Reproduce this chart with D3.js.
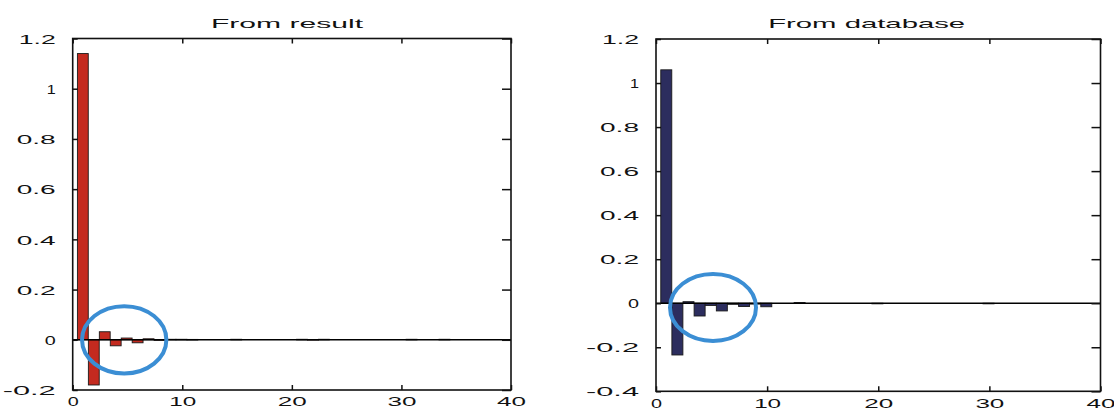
<!DOCTYPE html>
<html>
<head>
<meta charset="utf-8">
<script src="https://cdn.jsdelivr.net/npm/d3@7"></script>
<style>
  html, body { margin: 0; padding: 0; background: #fff; }
  svg { display: block; }
  text { font-family: "Liberation Sans", "DejaVu Sans", sans-serif; fill: #111; }
</style>
</head>
<body>
<svg id="chart" width="1114" height="410"></svg>
<script>
// Lags 1..40
const lags = d3.range(1, 41);

// Impulse response bars, "From result"
const resultValues = [
  1.14, -0.18, 0.032, -0.024, 0.007, -0.012, 0.004, -0.002, 0.002, 0.002,
  0.0015, 0, 0, 0, 0.002, 0, 0, 0, 0, 0,
  0.002, 0.001, 0.002, 0, 0, 0, 0, 0, 0, 0,
  0.002, 0, 0, 0.002, 0, 0, 0, 0, 0, 0
];

// Impulse response bars, "From database"
const databaseValues = [
  1.06, -0.235, 0.007, -0.058, -0.01, -0.035, -0.005, -0.015, -0.004, -0.016,
  0, 0, 0.003, 0, 0, 0, 0, 0, 0, -0.002,
  0, 0, 0, 0, 0, 0, 0, 0, 0, -0.002,
  0, 0, 0, 0, 0, 0, 0, 0, 0, 0
];

const xTicks = [0, 10, 20, 30, 40];
const resultYTicks = [-0.2, 0, 0.2, 0.4, 0.6, 0.8, 1, 1.2];
const databaseYTicks = [-0.4, -0.2, 0, 0.2, 0.4, 0.6, 0.8, 1, 1.2];

// Highlight ellipses around the early oscillation (data units)
const resultHighlight = { cx: 4.7, cy: 0.0, rx: 3.85, ry: 0.134 };
const databaseHighlight = { cx: 5.13, cy: -0.019, rx: 3.87, ry: 0.152 };

const svg = d3.select("#chart");

// Width of a label in the wide MATLAB-style face
function labelWidth(s) {
  let w = 0;
  for (const c of s) w += c === "." ? 3 : c === "-" ? 7 : (c === "1" ? 9 : 11);
  return w + 7 * (s.length - 1);
}
function fmt(d) {
  if (Math.abs(d) < 1e-9) return "0";
  return String(+d.toFixed(1));
}

function panel(opts) {
  const { left, right, top, bottom, yDomain, yTicks, values, fill, title, titleX, titleW, highlight } = opts;
  const x = d3.scaleLinear().domain([0, 40]).range([left, right]);
  const y = d3.scaleLinear().domain(yDomain).range([bottom, top]);
  const g = svg.append("g");

  // bars
  g.selectAll("rect.bar")
    .data(lags.map((k, i) => ({ k, v: values[i] })).filter(d => d.v !== 0))
    .join("rect")
    .attr("class", "bar")
    .attr("x", d => x(d.k - 0.57))
    .attr("width", d => x(d.k + 0.42) - x(d.k - 0.57))
    .attr("y", d => y(Math.max(0, d.v)))
    .attr("height", d => Math.max(0.6, Math.abs(y(d.v) - y(0))))
    .attr("fill", fill)
    .attr("stroke", "#1a1a1a")
    .attr("stroke-width", 0.9);

  // zero baseline
  g.append("line")
    .attr("x1", x(0)).attr("x2", x(40))
    .attr("y1", y(0)).attr("y2", y(0))
    .attr("stroke", "#000").attr("stroke-width", 1.4);

  // box
  g.append("rect")
    .attr("x", left).attr("y", top)
    .attr("width", right - left).attr("height", bottom - top)
    .attr("fill", "none").attr("stroke", "#111").attr("stroke-width", 1.6);

  // bottom axis
  const xb = g.append("g").attr("transform", `translate(0,${bottom})`)
    .call(d3.axisBottom(x).tickValues(xTicks).tickSize(-5).tickPadding(7).tickFormat(d3.format("d")));
  // top ticks
  const xt = g.append("g").attr("transform", `translate(0,${top})`)
    .call(d3.axisTop(x).tickValues(xTicks).tickSize(-5).tickFormat(""));
  // left axis
  const yl = g.append("g").attr("transform", `translate(${left},0)`)
    .call(d3.axisLeft(y).tickValues(yTicks).tickSize(-5).tickPadding(17).tickFormat(fmt));
  // right ticks
  const yr = g.append("g").attr("transform", `translate(${right},0)`)
    .call(d3.axisRight(y).tickValues(yTicks).tickSize(-9).tickFormat(""));

  [xb, xt, yl, yr].forEach(a => {
    a.select(".domain").remove();
    a.selectAll(".tick line").attr("stroke", "#111").attr("stroke-width", 1.5);
  });
  [xb, yl].forEach(a => {
    a.selectAll(".tick text")
      .attr("font-size", 13)
      .attr("font-family", "Liberation Sans, DejaVu Sans, sans-serif")
      .attr("fill", "#111")
      .attr("textLength", function () { return labelWidth(this.textContent); })
      .attr("lengthAdjust", "spacingAndGlyphs");
  });
  yl.selectAll(".tick text").attr("dy", "0.36em");

  // title
  g.append("text")
    .attr("x", titleX).attr("y", 27.5)
    .attr("text-anchor", "middle")
    .attr("font-size", 13)
    .attr("textLength", titleW)
    .attr("lengthAdjust", "spacingAndGlyphs")
    .text(title);

  // highlight ellipse
  g.append("ellipse")
    .attr("cx", x(highlight.cx)).attr("cy", y(highlight.cy))
    .attr("rx", x(highlight.rx) - x(0))
    .attr("ry", y(0) - y(highlight.ry))
    .attr("fill", "none")
    .attr("stroke", "#3b8ed4")
    .attr("stroke-width", 4);
}

panel({
  left: 72.7, right: 511, top: 38.5, bottom: 390,
  yDomain: [-0.2, 1.2], yTicks: resultYTicks, values: resultValues,
  fill: "#c42a1f", title: "From result", titleX: 287, titleW: 152,
  highlight: resultHighlight
});

panel({
  left: 656, right: 1100.5, top: 39, bottom: 391.3,
  yDomain: [-0.4, 1.2], yTicks: databaseYTicks, values: databaseValues,
  fill: "#2c2d5e", title: "From database", titleX: 866.7, titleW: 197,
  highlight: databaseHighlight
});
</script>
</body>
</html>
